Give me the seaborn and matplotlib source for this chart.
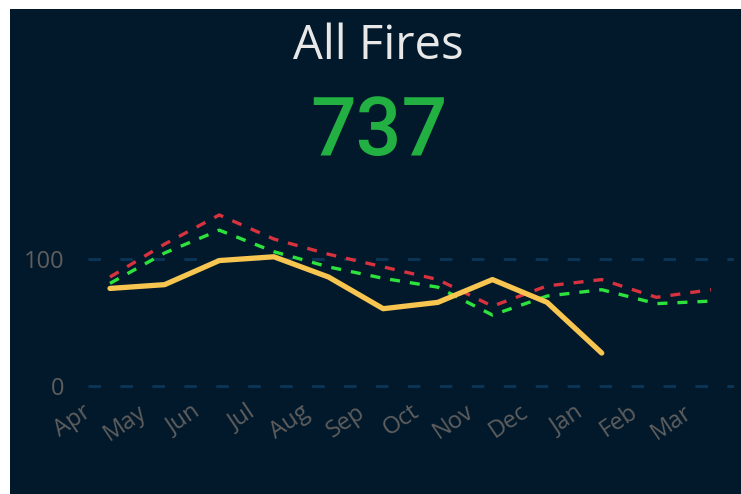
import numpy as np
import pandas as pd
import matplotlib
matplotlib.use("Agg")
import matplotlib.pyplot as plt
import matplotlib.transforms as mtransforms
from matplotlib.patches import Rectangle
import seaborn as sns

# Monthly fire counts (financial year Apr-Mar)
months = ["Apr", "May", "Jun", "Jul", "Aug", "Sep", "Oct", "Nov", "Dec", "Jan", "Feb", "Mar"]
actual = [77, 80, 99, 102, 86, 61, 66, 84, 66, 26, np.nan, np.nan]
upper = [86, 112, 135, 116, 104, 94, 84, 63, 79, 84, 70, 76]
lower = [81, 105, 123, 106, 94, 85, 78, 56, 71, 76, 65, 67]
total_fires = 737

BG = "#02192b"
GRID = "#0b3658"
TICK = "#5e5e5e"

sns.set_style("dark")
plt.rcParams["font.family"] = ["Open Sans", "DejaVu Sans"]

W, H = 741, 494
fig = plt.figure(figsize=(W / 100, H / 100), dpi=100)
fig.patch.set_facecolor("white")
# dark card
fig.patches.append(Rectangle((10 / W, 0), 1, 1 - 9 / H, transform=fig.transFigure,
                             facecolor=BG, edgecolor="none", zorder=-5))

# axes placed in pixel terms
ax_left, ax_right, ax_top, ax_bottom = 88, 734, 190, 400
ax = fig.add_axes([ax_left / W, 1 - ax_bottom / H, (ax_right - ax_left) / W, (ax_bottom - ax_top) / H])
ax.set_facecolor("none")

df = pd.DataFrame({"month": months, "x": range(len(months)),
                   "actual": actual, "upper": upper, "lower": lower})

sns.lineplot(data=df, x="x", y="upper", ax=ax, color="#d9323f", linewidth=2.4,
             linestyle=(0, (3, 3)))
sns.lineplot(data=df, x="x", y="lower", ax=ax, color="#2ee23d", linewidth=2.4,
             linestyle=(0, (3, 3)))
sns.lineplot(data=df, x="x", y="actual", ax=ax, color="#f7c550", linewidth=3.8)

# x: Apr at 110px, Mar at 711px
ppu = (711 - 110) / 11
ax.set_xlim((ax_left - 110) / ppu, 11 + (ax_right - 711) / ppu)
ppv = (386 - 259.3) / 100
ax.set_ylim((386 - ax_bottom) / ppv, (386 - ax_top) / ppv)

for v in [0, 100]:
    ax.axhline(v, color=GRID, linewidth=2, linestyle=(0, (4.5, 7)), zorder=0)

ax.set_yticks([0, 100])
ax.set_yticklabels(["0", "100"])
ax.set_xticks(range(len(months)))
ax.set_xticklabels(months, rotation=34, ha="right")
ax.tick_params(axis="both", length=0, colors=TICK)
ax.tick_params(axis="y", pad=17, labelsize=17)
ax.tick_params(axis="x", pad=0, labelsize=17)
offset = mtransforms.ScaledTranslation(-0.14, 0, fig.dpi_scale_trans)
for lbl in ax.get_xticklabels():
    lbl.set_transform(lbl.get_transform() + offset)

ax.grid(False)
ax.set_xlabel("")
ax.set_ylabel("")
for s in ax.spines.values():
    s.set_visible(False)

fig.text(378 / W, 1 - 46 / H, "All Fires", ha="center", va="center",
         color="#e8e8e8", fontsize=34, family=["Open Sans", "DejaVu Sans"])
fig.text(379 / W, 1 - 133 / H, str(total_fires), ha="center", va="center",
         color="#21b041", fontsize=58, fontweight="medium", family=["Roboto", "DejaVu Sans"])

fig.savefig("out.png", dpi=100, facecolor=fig.get_facecolor())
